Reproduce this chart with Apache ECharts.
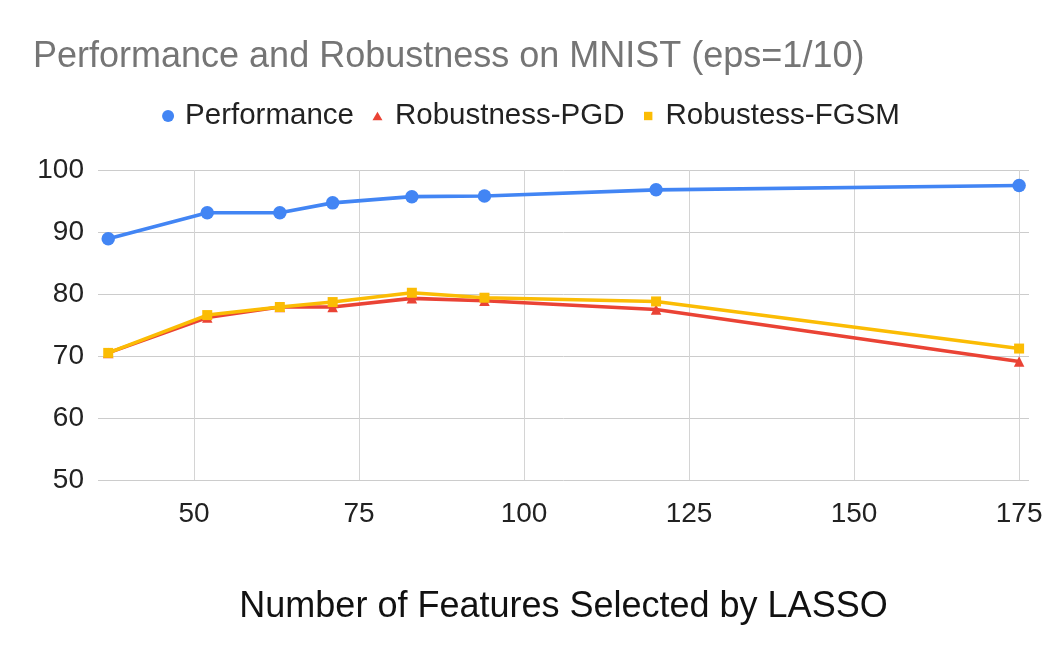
<!DOCTYPE html>
<html>
<head>
<meta charset="utf-8">
<script src="https://cdn.jsdelivr.net/npm/echarts@6/dist/echarts.min.js"></script>
<style>html,body{margin:0;padding:0;background:#fff}#c{width:1062px;height:658px}</style>
</head>
<body>
<div id="c"></div>
<script>
const features = [37, 52, 63, 71, 83, 94, 120, 175];
const performance = [88.9, 93.1, 93.1, 94.7, 95.7, 95.8, 96.8, 97.5];
const robustPGD = [70.5, 76.2, 77.9, 77.9, 79.3, 78.9, 77.5, 69.1];
const robustFGSM = [70.5, 76.6, 77.9, 78.7, 80.2, 79.4, 78.8, 71.2];
const xTicks = [50, 75, 100, 125, 150, 175];
const seriesNames = ['Performance', 'Robustness-PGD', 'Robustess-FGSM'];

const pair = (ys) => features.map((x, i) => [x, ys[i]]);
const font = "'Liberation Sans', Arial, sans-serif";

// legend icons drawn in an 18x12 box, shape on the left side
const boxPts = 'M0,0M18,12';
const iconCircle = 'path://' + boxPts + 'M0,6A6,6 0 1,0 12,6A6,6 0 1,0 0,6Z';
const iconTri = 'path://' + boxPts + 'M5.5,1.8L10.5,10.2L0.5,10.2Z';
const iconRect = 'path://' + boxPts + 'M1.5,1.8L9.9,1.8L9.9,10.2L1.5,10.2Z';

const chart = echarts.init(document.getElementById('c'));
chart.setOption({
  animation: false,
  title: {
    text: 'Performance and Robustness on MNIST (eps=1/10)',
    left: 28, top: 34,
    textStyle: { fontFamily: font, fontSize: 36, fontWeight: 'normal', color: '#757575' }
  },
  legend: {
    top: 96, left: 'center',
    itemWidth: 18, itemHeight: 12, itemGap: 18,
    textStyle: { fontFamily: font, fontSize: 29.5, color: '#222' },
    data: [
      { name: seriesNames[0], icon: iconCircle },
      { name: seriesNames[1], icon: iconTri },
      { name: seriesNames[2], icon: iconRect }
    ]
  },
  grid: { left: 98, right: 33, top: 170, bottom: 178, containLabel: false },
  xAxis: {
    type: 'value', min: 35.45, max: 176.5,
    name: 'Number of Features Selected by LASSO',
    nameLocation: 'middle', nameGap: 109,
    nameTextStyle: { fontFamily: font, fontSize: 36, color: '#111' },
    axisLine: { show: false }, axisTick: { show: false },
    splitLine: { show: false },
    axisLabel: { customValues: xTicks, margin: 20, fontFamily: font, fontSize: 28, color: '#222' }
  },
  yAxis: {
    type: 'value', min: 50, max: 100, interval: 10,
    axisLine: { show: false }, axisTick: { show: false },
    splitLine: { lineStyle: { color: '#cccccc', width: 1 } },
    axisLabel: { margin: 14, fontFamily: font, fontSize: 28, color: '#222' }
  },
  series: [
    {
      name: 'grid-x', type: 'line', data: [], silent: true, z: 0,
      markLine: {
        silent: true, symbol: 'none', z: 1, animation: false,
        label: { show: false },
        lineStyle: { color: '#d4d4d4', width: 1, type: 'solid' },
        emphasis: { disabled: true },
        data: xTicks.map(v => ({ xAxis: v }))
      }
    },
    {
      name: seriesNames[0], type: 'line', data: pair(performance),
      symbol: 'circle', symbolSize: 13.5, z: 4,
      lineStyle: { width: 3.6, color: '#4285F4' }, itemStyle: { color: '#4285F4' }
    },
    {
      name: seriesNames[1], type: 'line', data: pair(robustPGD),
      symbol: 'triangle', symbolSize: 10.5, z: 2,
      lineStyle: { width: 3.6, color: '#EA4335' }, itemStyle: { color: '#EA4335' }
    },
    {
      name: seriesNames[2], type: 'line', data: pair(robustFGSM),
      symbol: 'rect', symbolSize: 10, z: 3,
      lineStyle: { width: 3.6, color: '#FBBC04' }, itemStyle: { color: '#FBBC04' }
    }
  ]
});
</script>
</body>
</html>
